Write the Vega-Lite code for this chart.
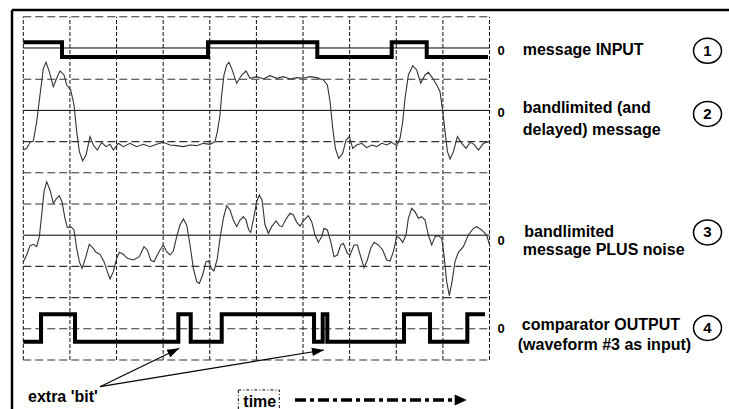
{
  "$schema": "https://vega.github.io/schema/vega-lite/v6.json",
  "width": 729,
  "height": 409,
  "autosize": "none",
  "padding": 0,
  "background": "white",
  "config": {"view": {"stroke": null}, "text": {"font": "Liberation Sans", "fontWeight": "bold"}},
  "datasets": {
    "grid": [
      {"t":0,"v":0,"t2":0,"v2":11,"k":"vd"},{"t":1,"v":0,"t2":1,"v2":11,"k":"vd"},{"t":2,"v":0,"t2":2,"v2":11,"k":"vd"},{"t":3,"v":0,"t2":3,"v2":11,"k":"vd"},{"t":4,"v":0,"t2":4,"v2":11,"k":"vd"},{"t":5,"v":0,"t2":5,"v2":11,"k":"vd"},{"t":6,"v":0,"t2":6,"v2":11,"k":"vd"},{"t":7,"v":0,"t2":7,"v2":11,"k":"vd"},{"t":8,"v":0,"t2":8,"v2":11,"k":"vd"},{"t":9,"v":0,"t2":9,"v2":11,"k":"vd"},{"t":10,"v":0,"t2":10,"v2":11,"k":"vd"},
      {"t":0,"v":0,"t2":10,"v2":0,"k":"hd"},{"t":0,"v":1,"t2":10,"v2":1,"k":"hd"},{"t":0,"v":2,"t2":10,"v2":2,"k":"hd"},{"t":0,"v":3,"t2":10,"v2":3,"k":"hd"},{"t":0,"v":5,"t2":10,"v2":5,"k":"hd"},{"t":0,"v":6,"t2":10,"v2":6,"k":"hd"},{"t":0,"v":7,"t2":10,"v2":7,"k":"hd"},{"t":0,"v":9,"t2":10,"v2":9,"k":"hd"},{"t":0,"v":11,"t2":10,"v2":11,"k":"hd"},
      {"t":0,"v":4,"t2":10,"v2":4,"k":"s"},{"t":0,"v":8,"t2":10,"v2":8,"k":"s"},{"t":0,"v":10,"t2":10,"v2":10,"k":"s"}
    ],
    "frame": [
      {"t":-0.2424,"v":11.218,"t2":15.4,"v2":11.218},
      {"t":-0.2424,"v":11.218,"t2":-0.2424,"v2":-1.8}
    ],
    "analog": [
      {"ch":2,"t":0.0,"v":6.731},{"ch":2,"t":0.072,"v":6.784},{"ch":2,"t":0.144,"v":6.976},{"ch":2,"t":0.215,"v":7.019},{"ch":2,"t":0.287,"v":7.639},{"ch":2,"t":0.358,"v":8.494},{"ch":2,"t":0.43,"v":9.348},{"ch":2,"t":0.487,"v":9.541},{"ch":2,"t":0.558,"v":9.241},{"ch":2,"t":0.644,"v":8.761},{"ch":2,"t":0.716,"v":9.028},{"ch":2,"t":0.787,"v":9.263},{"ch":2,"t":0.873,"v":9.135},{"ch":2,"t":0.93,"v":8.814},{"ch":2,"t":1.016,"v":8.654},{"ch":2,"t":1.088,"v":8.173},{"ch":2,"t":1.145,"v":7.318},{"ch":2,"t":1.202,"v":6.677},{"ch":2,"t":1.273,"v":6.378},{"ch":2,"t":1.345,"v":6.571},{"ch":2,"t":1.431,"v":7.158},{"ch":2,"t":1.502,"v":6.891},{"ch":2,"t":1.588,"v":6.731},{"ch":2,"t":1.681,"v":6.976},{"ch":2,"t":1.774,"v":6.838},{"ch":2,"t":1.86,"v":6.912},{"ch":2,"t":1.931,"v":6.731},{"ch":2,"t":2.039,"v":6.944},{"ch":2,"t":2.146,"v":6.838},{"ch":2,"t":2.289,"v":6.944},{"ch":2,"t":2.432,"v":6.838},{"ch":2,"t":2.575,"v":6.912},{"ch":2,"t":2.718,"v":6.838},{"ch":2,"t":2.861,"v":6.912},{"ch":2,"t":3.004,"v":6.976},{"ch":2,"t":3.147,"v":6.891},{"ch":2,"t":3.29,"v":6.87},{"ch":2,"t":3.433,"v":6.838},{"ch":2,"t":3.576,"v":6.891},{"ch":2,"t":3.719,"v":6.87},{"ch":2,"t":3.862,"v":6.944},{"ch":2,"t":4.005,"v":6.912},{"ch":2,"t":4.112,"v":6.998},{"ch":2,"t":4.162,"v":7.318},{"ch":2,"t":4.219,"v":7.853},{"ch":2,"t":4.255,"v":8.494},{"ch":2,"t":4.305,"v":9.135},{"ch":2,"t":4.362,"v":9.455},{"ch":2,"t":4.412,"v":9.541},{"ch":2,"t":4.469,"v":9.348},{"ch":2,"t":4.577,"v":8.868},{"ch":2,"t":4.684,"v":9.135},{"ch":2,"t":4.777,"v":9.263},{"ch":2,"t":4.863,"v":9.028},
      {"ch":2,"t":5.006,"v":9.081},{"ch":2,"t":5.149,"v":9.006},{"ch":2,"t":5.292,"v":9.113},{"ch":2,"t":5.435,"v":9.028},{"ch":2,"t":5.578,"v":9.081},{"ch":2,"t":5.722,"v":9.006},{"ch":2,"t":5.865,"v":9.049},{"ch":2,"t":6.008,"v":9.028},{"ch":2,"t":6.15,"v":9.081},{"ch":2,"t":6.294,"v":9.049},{"ch":2,"t":6.436,"v":8.974},{"ch":2,"t":6.522,"v":8.814},{"ch":2,"t":6.58,"v":8.28},{"ch":2,"t":6.637,"v":7.425},{"ch":2,"t":6.694,"v":6.784},{"ch":2,"t":6.765,"v":6.464},{"ch":2,"t":6.851,"v":6.624},{"ch":2,"t":6.923,"v":7.051},{"ch":2,"t":6.994,"v":7.158},{"ch":2,"t":7.066,"v":6.784},{"ch":2,"t":7.151,"v":6.891},{"ch":2,"t":7.259,"v":6.944},{"ch":2,"t":7.366,"v":6.806},{"ch":2,"t":7.473,"v":6.891},{"ch":2,"t":7.58,"v":6.838},{"ch":2,"t":7.688,"v":6.944},{"ch":2,"t":7.795,"v":6.891},{"ch":2,"t":7.902,"v":6.976},{"ch":2,"t":8.009,"v":6.87},{"ch":2,"t":8.081,"v":7.105},{"ch":2,"t":8.138,"v":7.639},{"ch":2,"t":8.188,"v":8.387},{"ch":2,"t":8.26,"v":9.135},{"ch":2,"t":8.353,"v":9.434},{"ch":2,"t":8.438,"v":9.295},{"ch":2,"t":8.524,"v":8.868},{"ch":2,"t":8.617,"v":9.135},{"ch":2,"t":8.689,"v":9.22},{"ch":2,"t":8.782,"v":9.028},{"ch":2,"t":8.868,"v":8.814},{"ch":2,"t":8.939,"v":8.6},{"ch":2,"t":8.997,"v":7.959},{"ch":2,"t":9.047,"v":7.318},{"ch":2,"t":9.097,"v":6.677},{"ch":2,"t":9.154,"v":6.442},{"ch":2,"t":9.226,"v":6.677},{"ch":2,"t":9.312,"v":7.158},{"ch":2,"t":9.405,"v":6.944},{"ch":2,"t":9.497,"v":6.784},{"ch":2,"t":9.583,"v":6.976},{"ch":2,"t":9.669,"v":6.912},{"ch":2,"t":9.762,"v":6.731},{"ch":2,"t":9.87,"v":6.944},{"ch":2,"t":9.998,"v":6.998},
      {"ch":3,"t":0.001,"v":3.152},{"ch":3,"t":0.072,"v":3.365},{"ch":3,"t":0.144,"v":3.665},{"ch":3,"t":0.215,"v":3.707},{"ch":3,"t":0.287,"v":3.632},{"ch":3,"t":0.344,"v":3.953},{"ch":3,"t":0.394,"v":4.647},{"ch":3,"t":0.444,"v":5.395},{"ch":3,"t":0.501,"v":5.716},{"ch":3,"t":0.573,"v":5.449},{"ch":3,"t":0.644,"v":5.021},{"ch":3,"t":0.716,"v":5.182},{"ch":3,"t":0.773,"v":5.267},{"ch":3,"t":0.83,"v":5.075},{"ch":3,"t":0.894,"v":4.541},{"ch":3,"t":0.945,"v":4.241},{"ch":3,"t":1.016,"v":4.274},{"ch":3,"t":1.088,"v":4.167},{"ch":3,"t":1.145,"v":3.579},{"ch":3,"t":1.202,"v":3.152},{"ch":3,"t":1.259,"v":2.938},{"ch":3,"t":1.331,"v":3.259},{"ch":3,"t":1.416,"v":3.707},{"ch":3,"t":1.488,"v":3.6},{"ch":3,"t":1.559,"v":3.451},{"ch":3,"t":1.645,"v":3.387},{"ch":3,"t":1.731,"v":3.152},{"ch":3,"t":1.802,"v":2.831},{"ch":3,"t":1.86,"v":2.596},{"ch":3,"t":1.931,"v":2.831},{"ch":3,"t":2.003,"v":3.259},{"ch":3,"t":2.06,"v":3.451},{"ch":3,"t":2.146,"v":3.387},{"ch":3,"t":2.232,"v":3.259},{"ch":3,"t":2.36,"v":3.205},{"ch":3,"t":2.489,"v":3.312},{"ch":3,"t":2.589,"v":3.632},{"ch":3,"t":2.66,"v":3.526},{"ch":3,"t":2.732,"v":3.205},{"ch":3,"t":2.803,"v":3.152},{"ch":3,"t":2.875,"v":3.365},{"ch":3,"t":2.932,"v":3.526},{"ch":3,"t":3.004,"v":3.686},{"ch":3,"t":3.075,"v":3.472},{"ch":3,"t":3.147,"v":3.365},{"ch":3,"t":3.218,"v":3.494},{"ch":3,"t":3.29,"v":3.953},{"ch":3,"t":3.361,"v":4.327},{"ch":3,"t":3.433,"v":4.519},{"ch":3,"t":3.504,"v":4.327},{"ch":3,"t":3.576,"v":3.686},{"ch":3,"t":3.647,"v":2.938},{"ch":3,"t":3.719,"v":2.511},{"ch":3,"t":3.776,"v":2.457},{"ch":3,"t":3.847,"v":2.724},{"ch":3,"t":3.919,"v":3.152},{"ch":3,"t":3.976,"v":3.173},{"ch":3,"t":4.033,"v":2.938},{"ch":3,"t":4.09,"v":2.853},{"ch":3,"t":4.162,"v":3.259},{"ch":3,"t":4.219,"v":3.9},{"ch":3,"t":4.291,"v":4.541},{"ch":3,"t":4.362,"v":4.947},{"ch":3,"t":4.434,"v":4.808},{"ch":3,"t":4.505,"v":4.487},{"ch":3,"t":4.577,"v":4.274},{"ch":3,"t":4.648,"v":4.487},{"ch":3,"t":4.72,"v":4.594},{"ch":3,"t":4.777,"v":4.487},{"ch":3,"t":4.834,"v":4.167},{"ch":3,"t":4.877,"v":4.092},{"ch":3,"t":4.934,"v":4.487},{"ch":3,"t":5.006,"v":5.075},{"ch":3,"t":5.063,"v":5.288},
      {"ch":3,"t":5.12,"v":5.128},{"ch":3,"t":5.185,"v":4.327},{"ch":3,"t":5.256,"v":4.06},{"ch":3,"t":5.328,"v":4.274},{"ch":3,"t":5.421,"v":4.455},{"ch":3,"t":5.492,"v":4.306},{"ch":3,"t":5.55,"v":4.274},{"ch":3,"t":5.635,"v":4.519},{"ch":3,"t":5.721,"v":4.701},{"ch":3,"t":5.793,"v":4.647},{"ch":3,"t":5.864,"v":4.412},{"ch":3,"t":5.935,"v":4.295},{"ch":3,"t":6.021,"v":4.487},{"ch":3,"t":6.114,"v":4.626},{"ch":3,"t":6.186,"v":4.434},{"ch":3,"t":6.257,"v":4.006},{"ch":3,"t":6.329,"v":3.771},{"ch":3,"t":6.4,"v":3.953},{"ch":3,"t":6.45,"v":4.22},{"ch":3,"t":6.522,"v":4.167},{"ch":3,"t":6.594,"v":3.793},{"ch":3,"t":6.665,"v":3.312},{"ch":3,"t":6.737,"v":3.365},{"ch":3,"t":6.808,"v":3.686},{"ch":3,"t":6.865,"v":3.739},{"ch":3,"t":6.951,"v":3.419},{"ch":3,"t":7.009,"v":3.365},{"ch":3,"t":7.094,"v":3.686},{"ch":3,"t":7.166,"v":3.686},{"ch":3,"t":7.237,"v":3.312},{"ch":3,"t":7.308,"v":2.959},{"ch":3,"t":7.38,"v":3.205},{"ch":3,"t":7.451,"v":3.579},{"ch":3,"t":7.523,"v":3.771},{"ch":3,"t":7.616,"v":3.686},{"ch":3,"t":7.709,"v":3.526},{"ch":3,"t":7.795,"v":3.205},{"ch":3,"t":7.866,"v":3.173},{"ch":3,"t":7.938,"v":3.472},{"ch":3,"t":8.009,"v":3.953},{"ch":3,"t":8.066,"v":3.921},{"ch":3,"t":8.138,"v":3.771},{"ch":3,"t":8.209,"v":4.006},{"ch":3,"t":8.259,"v":4.541},{"ch":3,"t":8.331,"v":4.861},{"ch":3,"t":8.402,"v":4.754},{"ch":3,"t":8.474,"v":4.541},{"ch":3,"t":8.545,"v":4.594},{"ch":3,"t":8.617,"v":4.487},{"ch":3,"t":8.688,"v":4.006},{"ch":3,"t":8.76,"v":3.686},{"ch":3,"t":8.831,"v":3.953},{"ch":3,"t":8.903,"v":3.985},{"ch":3,"t":8.974,"v":3.9},{"ch":3,"t":9.024,"v":3.365},{"ch":3,"t":9.081,"v":2.511},{"ch":3,"t":9.139,"v":2.062},{"ch":3,"t":9.196,"v":2.511},{"ch":3,"t":9.26,"v":3.152},{"ch":3,"t":9.332,"v":3.451},{"ch":3,"t":9.439,"v":3.632},{"ch":3,"t":9.546,"v":4.006},{"ch":3,"t":9.654,"v":4.22},{"ch":3,"t":9.725,"v":4.274},{"ch":3,"t":9.832,"v":4.167},{"ch":3,"t":9.94,"v":4.006},{"ch":3,"t":10.011,"v":3.632}
    ],
    "digital": [
      {"ch":1,"t":0,"v":10.18},{"ch":1,"t":0.83,"v":9.71},{"ch":1,"t":3.962,"v":10.18},{"ch":1,"t":6.306,"v":9.71},{"ch":1,"t":7.902,"v":10.18},{"ch":1,"t":8.653,"v":9.71},{"ch":1,"t":9.968,"v":9.71},
      {"ch":4,"t":0,"v":0.587},{"ch":4,"t":0.38,"v":1.465},{"ch":4,"t":1.109,"v":0.587},{"ch":4,"t":3.325,"v":1.465},{"ch":4,"t":3.591,"v":0.587},{"ch":4,"t":4.256,"v":1.465},{"ch":4,"t":6.236,"v":0.587},{"ch":4,"t":6.422,"v":1.465},{"ch":4,"t":6.521,"v":0.587},{"ch":4,"t":8.166,"v":1.465},{"ch":4,"t":8.724,"v":0.587},{"ch":4,"t":9.524,"v":1.465},{"ch":4,"t":9.904,"v":1.465}
    ],
    "arrows": [
      {"t":1.645,"v":-0.856,"t2":3.346,"v2":0.375},
      {"t":1.645,"v":-0.856,"t2":6.45,"v2":0.321}
    ],
    "heads": [
      {"t":3.346,"v":0.375,"angle":334.2},
      {"t":6.45,"v":0.321,"angle":350.7}
    ],
    "timeline": [{"t":5.828,"v":-1.282,"t2":9.3,"v2":-1.282}],
    "timehead": [{"t":9.511,"v":-1.282,"angle":0}],
    "timebox": [{"t":4.612,"v":-0.962,"t2":5.491,"v2":-1.75}],
    "labels": [
      {"t":10.712,"v":9.776,"text":"message INPUT"},
      {"t":10.712,"v":7.907,"text":"bandlimited (and"},
      {"t":10.712,"v":7.212,"text":"delayed) message"},
      {"t":10.746,"v":3.933,"text":"bandlimited"},
      {"t":10.712,"v":3.365,"text":"message PLUS noise"},
      {"t":10.691,"v":0.962,"text":"comparator OUTPUT"},
      {"t":10.605,"v":0.321,"text":"(waveform #3 as input)"},
      {"t":0.101,"v":-1.346,"text":"extra 'bit'"},
      {"t":4.719,"v":-1.506,"text":"time"}
    ],
    "zeros": [
      {"t":10.249,"v":9.776,"text":"0"},
      {"t":10.249,"v":7.798,"text":"0"},
      {"t":10.249,"v":3.686,"text":"0"},
      {"t":10.249,"v":0.856,"text":"0"}
    ],
    "circles": [
      {"t":14.676,"v":9.91,"tv":9.75,"text":"1"},
      {"t":14.676,"v":7.885,"tv":7.725,"text":"2"},
      {"t":14.676,"v":4.087,"tv":3.927,"text":"3"},
      {"t":14.676,"v":1.026,"tv":0.866,"text":"4"}
    ]
  },
  "encoding": {
    "x": {"field": "t", "type": "quantitative", "scale": {"domain": [-0.5, 15.137], "nice": false, "zero": false}, "axis": null},
    "y": {"field": "v", "type": "quantitative", "scale": {"domain": [-1.5705, 11.538], "nice": false, "zero": false}, "axis": null}
  },
  "layer": [
    {"data": {"name": "grid"}, "transform": [{"filter": "datum.k == 'vd'"}], "mark": {"type": "rule", "color": "#111", "strokeWidth": 1, "strokeDash": [4, 2]}, "encoding": {"x2": {"field": "t2"}, "y2": {"field": "v2"}}},
    {"data": {"name": "grid"}, "transform": [{"filter": "datum.k == 'hd'"}], "mark": {"type": "rule", "color": "#333", "strokeWidth": 1.1, "strokeDash": [8, 4]}, "encoding": {"x2": {"field": "t2"}, "y2": {"field": "v2"}}},
    {"data": {"name": "grid"}, "transform": [{"filter": "datum.k == 's'"}], "mark": {"type": "rule", "color": "#000", "strokeWidth": 1}, "encoding": {"x2": {"field": "t2"}, "y2": {"field": "v2"}}},
    {"data": {"name": "frame"}, "mark": {"type": "rule", "color": "#000", "strokeWidth": 2.5}, "encoding": {"x2": {"field": "t2"}, "y2": {"field": "v2"}}},
    {"data": {"name": "analog"}, "mark": {"type": "line", "color": "#333", "strokeWidth": 1.1}, "encoding": {"detail": {"field": "ch", "type": "nominal"}}},
    {"data": {"name": "digital"}, "mark": {"type": "line", "color": "#000", "strokeWidth": 4, "interpolate": "step-after", "strokeJoin": "miter"}, "encoding": {"detail": {"field": "ch", "type": "nominal"}}},
    {"data": {"name": "arrows"}, "mark": {"type": "rule", "color": "#000", "strokeWidth": 1.2}, "encoding": {"x2": {"field": "t2"}, "y2": {"field": "v2"}}},
    {"data": {"name": "heads"}, "mark": {"type": "point", "shape": "M 0 0 L -1 -0.35 L -1 0.35 Z", "size": 576, "filled": true, "color": "#000", "opacity": 1}, "encoding": {"angle": {"field": "angle", "type": "quantitative", "scale": null}}},
    {"data": {"name": "timeline"}, "mark": {"type": "rule", "color": "#000", "strokeWidth": 3.5, "strokeDash": [11, 4, 4, 4]}, "encoding": {"x2": {"field": "t2"}, "y2": {"field": "v2"}}},
    {"data": {"name": "timehead"}, "mark": {"type": "point", "shape": "M 0 0 L -1 -0.45 L -1 0.45 Z", "size": 576, "filled": true, "color": "#000", "opacity": 1}, "encoding": {"angle": {"field": "angle", "type": "quantitative", "scale": null}}},
    {"data": {"name": "timebox"}, "mark": {"type": "rect", "fill": null, "stroke": "#000", "strokeWidth": 1, "strokeDash": [3, 2, 1, 2]}, "encoding": {"x2": {"field": "t2"}, "y2": {"field": "v2"}}},
    {"data": {"name": "labels"}, "mark": {"type": "text", "align": "left", "baseline": "alphabetic", "fontSize": 16, "color": "#000"}, "encoding": {"text": {"field": "text"}}},
    {"data": {"name": "zeros"}, "mark": {"type": "text", "align": "center", "baseline": "alphabetic", "fontSize": 13, "color": "#000"}, "encoding": {"text": {"field": "text"}}},
    {"data": {"name": "circles"}, "mark": {"type": "point", "shape": "M -1 0 A 1 0.89 0 1 0 1 0 A 1 0.89 0 1 0 -1 0 Z", "size": 784, "filled": false, "stroke": "#000", "strokeWidth": 1.5, "opacity": 1}},
    {"data": {"name": "circles"}, "mark": {"type": "text", "align": "center", "baseline": "alphabetic", "fontSize": 15, "color": "#000"}, "encoding": {"y": {"field": "tv", "type": "quantitative"}, "text": {"field": "text"}}}
  ]
}
